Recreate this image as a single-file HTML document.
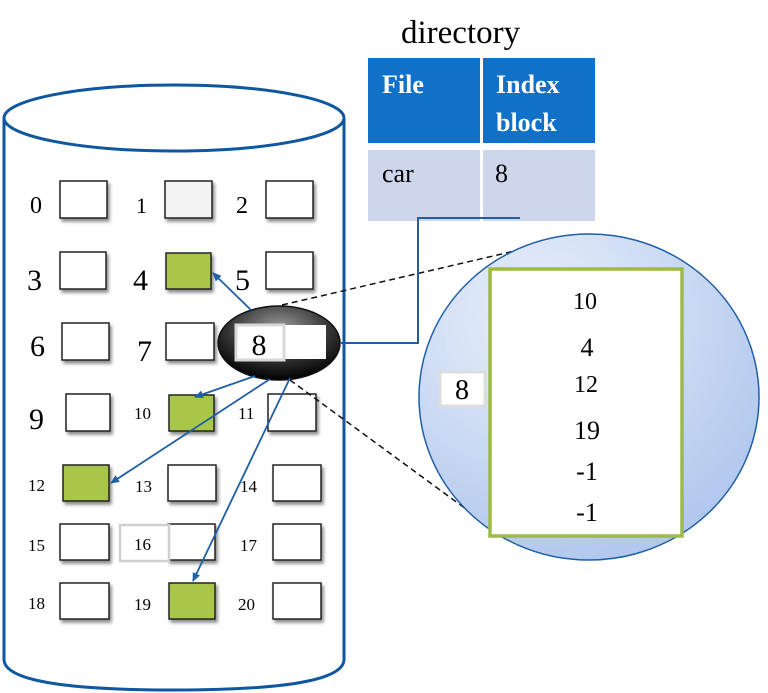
<!DOCTYPE html>
<html><head><style>
html,body{margin:0;padding:0;background:#fff;}
svg{display:block;}
text{font-family:"Liberation Serif",serif;fill:#000;}
</style></head><body>
<svg width="768" height="693" viewBox="0 0 768 693" xmlns="http://www.w3.org/2000/svg">
<defs>
<filter id="sh" x="-20%" y="-20%" width="150%" height="160%"><feDropShadow dx="2" dy="3" stdDeviation="1.5" flood-color="#000" flood-opacity="0.45"/></filter>
<radialGradient id="cg" cx="0.35" cy="0.25" r="0.9"><stop offset="0" stop-color="#eaf0fa"/><stop offset="1" stop-color="#a9c1ec"/></radialGradient>
<radialGradient id="eg" cx="0.5" cy="0.3" r="0.7"><stop offset="0" stop-color="#9a9a9a"/><stop offset="0.6" stop-color="#333"/><stop offset="1" stop-color="#000"/></radialGradient>
<marker id="ar" markerWidth="10" markerHeight="10" refX="8" refY="4" orient="auto" markerUnits="userSpaceOnUse"><path d="M0,0 L9,4 L0,8 z" fill="#1f5fa6"/></marker>
</defs>

<path d="M4,118 L4,660 Q6,690 174,690 Q342,690 344,660 L344,118" fill="#fff" stroke="#0f57a0" stroke-width="3"/>
<ellipse cx="174" cy="118" rx="170" ry="33" fill="#fff" stroke="#0f57a0" stroke-width="3"/>

<g stroke="#222" stroke-width="1.5" filter="url(#sh)">
<rect x="60" y="181" width="47" height="37" fill="#fff"/>
<rect x="165" y="181" width="47" height="37" fill="#f3f3f3"/>
<rect x="266" y="181" width="47" height="37" fill="#fff"/>
<rect x="60" y="252" width="46" height="37" fill="#fff"/>
<rect x="166" y="253" width="45" height="36" fill="#a8c64a"/>
<rect x="266" y="252" width="47" height="37" fill="#fff"/>
<rect x="62" y="323" width="47" height="37" fill="#fff"/>
<rect x="166" y="323" width="48" height="37" fill="#fff"/>
<rect x="66" y="394" width="44" height="37" fill="#fff"/>
<rect x="169" y="395" width="45" height="36" fill="#a8c64a"/>
<rect x="268" y="394" width="48" height="37" fill="#fff"/>
<rect x="63" y="465" width="46" height="36" fill="#a8c64a"/>
<rect x="168" y="465" width="48" height="36" fill="#fff"/>
<rect x="273" y="465" width="48" height="36" fill="#fff"/>
<rect x="60" y="524" width="49" height="36" fill="#fff"/>
<rect x="168" y="524" width="47" height="36" fill="#fff"/>
<rect x="273" y="524" width="48" height="36" fill="#fff"/>
<rect x="60" y="583" width="49" height="36" fill="#fff"/>
<rect x="169" y="583" width="46" height="36" fill="#a8c64a"/>
<rect x="273" y="583" width="48" height="36" fill="#fff"/>
</g>
<rect x="120" y="525" width="49" height="36" fill="#fff" stroke="#d0d0d0" stroke-width="2.5"/>

<g font-size="24">
<text x="30" y="213">0</text><text x="136" y="213" font-size="22">1</text><text x="236" y="213" font-size="24">2</text>
<text x="27" y="290" font-size="30">3</text><text x="133" y="290" font-size="30">4</text><text x="235" y="290" font-size="30">5</text>
<text x="30" y="356" font-size="30">6</text><text x="137" y="361" font-size="30">7</text>
<text x="29" y="429" font-size="30">9</text><text x="134" y="419" font-size="17">10</text><text x="238" y="419" font-size="17">11</text>
<text x="28" y="491" font-size="17">12</text><text x="135" y="492" font-size="17">13</text><text x="240" y="492" font-size="17">14</text>
<text x="28" y="551" font-size="17">15</text><text x="134" y="550" font-size="17">16</text><text x="240" y="551" font-size="17">17</text>
<text x="28" y="609" font-size="17">18</text><text x="134" y="610" font-size="17">19</text><text x="238" y="610" font-size="17">20</text>
</g>

<line x1="282" y1="305" x2="588" y2="234" stroke="#111" stroke-width="1.5" stroke-dasharray="6,4"/>
<line x1="290" y1="380" x2="470" y2="512" stroke="#111" stroke-width="1.5" stroke-dasharray="6,4"/>

<ellipse cx="589" cy="397" rx="170" ry="163" fill="url(#cg)" stroke="#1f5fa6" stroke-width="1.5"/>
<rect x="490" y="269" width="192" height="267" fill="#fff" stroke="#9bbb45" stroke-width="3.5"/>
<g font-size="26" text-anchor="middle">
<text x="585" y="309" font-size="24">10</text>
<text x="587" y="356">4</text>
<text x="586" y="392" font-size="24">12</text>
<text x="587" y="439">19</text>
<text x="587" y="480">-1</text>
<text x="587" y="521">-1</text>
</g>
<rect x="440" y="372" width="45" height="34" fill="#fff" stroke="#ddd" stroke-width="3"/>
<text x="462" y="399" font-size="28" text-anchor="middle">8</text>

<ellipse cx="279" cy="343" rx="61" ry="37" fill="url(#eg)" stroke="#111" stroke-width="1.5"/>
<rect x="284" y="325" width="42" height="34" fill="#fff"/>
<rect x="236" y="325" width="48" height="35" fill="#fff" stroke="#d8d8d8" stroke-width="3"/>
<text x="259" y="355" font-size="30" text-anchor="middle">8</text>

<g stroke="#1f5fa6" stroke-width="1.8" fill="none" marker-end="url(#ar)">
<line x1="251" y1="310" x2="213" y2="273"/>
<line x1="255" y1="376" x2="195" y2="397"/>
<line x1="270" y1="379" x2="111" y2="483"/>
<line x1="290" y1="378" x2="193" y2="581"/>
</g>

<text x="401" y="43" font-size="33">directory</text>
<rect x="368" y="58" width="112" height="85" fill="#1170c8"/>
<rect x="483" y="58" width="112" height="85" fill="#1170c8"/>
<rect x="368" y="150" width="112" height="71" fill="#cdd6ea"/>
<rect x="483" y="150" width="112" height="71" fill="#cdd6ea"/>
<g font-size="26" font-weight="bold">
<text x="382" y="93" style="fill:#fff">File</text>
<text x="496" y="93" style="fill:#fff">Index</text>
<text x="496" y="131" style="fill:#fff">block</text>
</g>
<text x="382" y="182" font-size="26">car</text>
<text x="495" y="182" font-size="26">8</text>

<polyline points="340,343 418,343 418,218 520,218" fill="none" stroke="#1f5fa6" stroke-width="2"/>
</svg>
</body></html>
